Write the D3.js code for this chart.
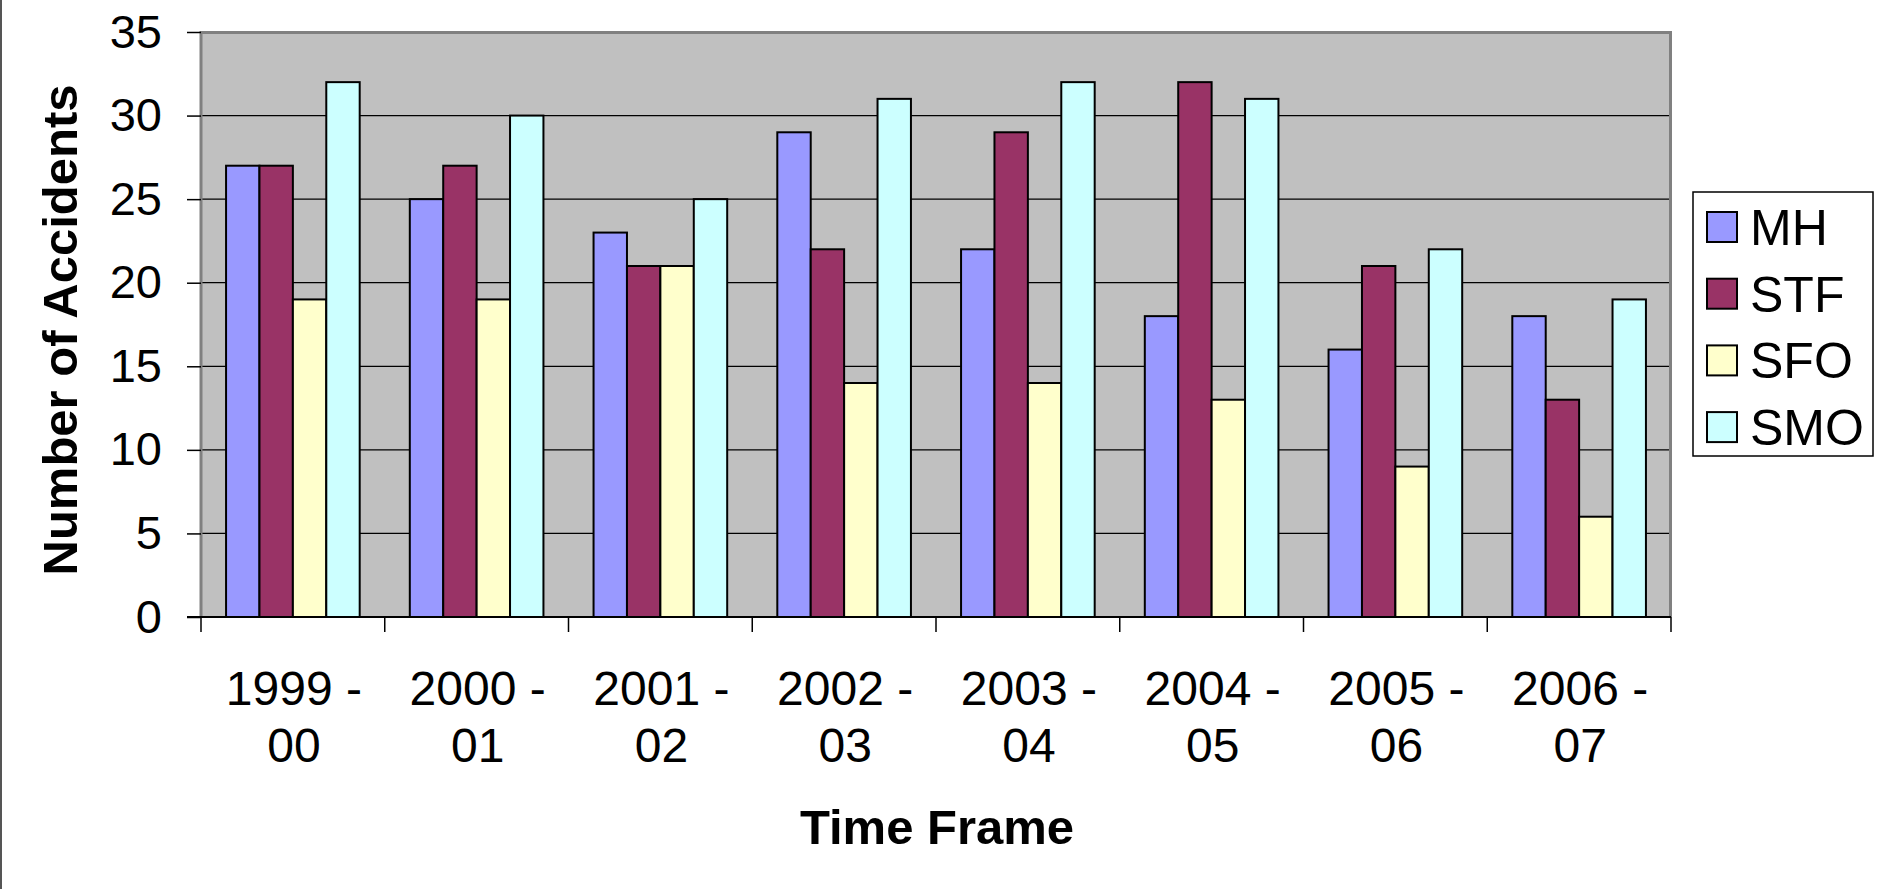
<!DOCTYPE html>
<html>
<head>
<meta charset="utf-8">
<script src="https://cdnjs.cloudflare.com/ajax/libs/d3/7.8.5/d3.min.js"></script>
<style>
  body { margin: 0; background: #fff; }
  svg { display: block; font-family: "Liberation Sans", Arial, sans-serif; }
</style>
</head>
<body>
<div class="container"></div>
<script>
var periods = ["1999 - 00", "2000 - 01", "2001 - 02", "2002 - 03", "2003 - 04", "2004 - 05", "2005 - 06", "2006 - 07"];
var seriesNames = ["MH", "STF", "SFO", "SMO"];
var mhValues  = [27, 25, 23, 29, 22, 18, 16, 18];
var stfValues = [27, 27, 21, 22, 29, 32, 21, 13];
var sfoValues = [19, 19, 21, 14, 14, 13, 9, 6];
var smoValues = [32, 30, 25, 31, 32, 31, 22, 19];
var yTicks = [0, 5, 10, 15, 20, 25, 30, 35];

const WIDTH = 1879;
const HEIGHT = 889;
const PLOT = {left: 201, right: 1671, top: 32, bottom: 617};
var colors = ["#9999FF", "#993366", "#FFFFCC", "#CCFFFF"];
var seriesValues = [mhValues, stfValues, sfoValues, smoValues];

var translate = function(x, y){
	return "translate(" + x + "," + y + ")";
};

var svg = d3.select('.container').append('svg')
	.attr('width', WIDTH)
	.attr('height', HEIGHT);

// left edge frame line
svg.append('line')
	.attr('x1', 1).attr('x2', 1).attr('y1', 0).attr('y2', HEIGHT)
	.attr('stroke', '#555').attr('stroke-width', 2);

var xScale = d3.scaleBand()
	.domain(periods)
	.range([PLOT.left, PLOT.right])
	.padding(0);

var innerScale = d3.scaleBand()
	.domain(seriesNames)
	.range([0, xScale.step()])
	.paddingInner(0)
	.paddingOuter(0.75);

var yScale = d3.scaleLinear()
	.domain([0, 35])
	.range([PLOT.bottom, PLOT.top]);

// plot background
svg.append('rect')
	.attr('x', PLOT.left).attr('y', PLOT.top)
	.attr('width', PLOT.right - PLOT.left)
	.attr('height', PLOT.bottom - PLOT.top)
	.attr('fill', '#C0C0C0');

// gridlines
svg.append('g').selectAll('line').data(yTicks.slice(1, -1))
	.enter().append('line')
	.attr('x1', PLOT.left).attr('x2', PLOT.right)
	.attr('y1', function(d){ return yScale(d); })
	.attr('y2', function(d){ return yScale(d); })
	.attr('stroke', '#000').attr('stroke-width', 1.2);

// plot border (top/right/left)
svg.append('path')
	.attr('d', 'M' + PLOT.left + ',' + PLOT.bottom + 'V' + (PLOT.top + 0.5) + 'H' + (PLOT.right - 0.5) + 'V' + PLOT.bottom)
	.attr('fill', 'none')
	.attr('stroke', '#808080').attr('stroke-width', 3);

// bars
var rows = periods.map(function(p, i){
	return {period: p, values: seriesNames.map(function(s, j){ return {series: s, value: seriesValues[j][i], idx: j}; })};
});

var groups = svg.append('g').selectAll('g').data(rows)
	.enter().append('g')
	.attr('transform', function(d){ return translate(xScale(d.period), 0); });

groups.selectAll('rect').data(function(d){ return d.values; })
	.enter().append('rect')
	.attr('x', function(d){ return innerScale(d.series); })
	.attr('y', function(d){ return yScale(d.value); })
	.attr('width', innerScale.bandwidth())
	.attr('height', function(d){ return yScale(0) - yScale(d.value); })
	.attr('fill', function(d){ return colors[d.idx]; })
	.attr('stroke', '#000').attr('stroke-width', 2);

// y axis
var yAxis = d3.axisLeft(yScale)
	.tickValues(yTicks)
	.tickSize(14)
	.tickPadding(25)
	.tickFormat(d3.format('d'));

var yG = svg.append('g')
	.attr('transform', translate(PLOT.left, 0))
	.call(yAxis);
yG.select('.domain').remove();
yG.selectAll('line').attr('stroke', '#000').attr('stroke-width', 1.5);
yG.selectAll('text')
	.attr('font-size', 47)
	.attr('font-family', '"Liberation Sans", Arial, sans-serif')
	.attr('fill', '#000');

// x axis line and boundary ticks
svg.append('line')
	.attr('x1', PLOT.left - 14).attr('x2', PLOT.right)
	.attr('y1', PLOT.bottom).attr('y2', PLOT.bottom)
	.attr('stroke', '#000').attr('stroke-width', 2);

var bounds = periods.map(function(p){ return xScale(p); }).concat([PLOT.right]);
svg.append('g').selectAll('line').data(bounds)
	.enter().append('line')
	.attr('x1', function(d){ return d; }).attr('x2', function(d){ return d; })
	.attr('y1', PLOT.bottom).attr('y2', PLOT.bottom + 15)
	.attr('stroke', '#000').attr('stroke-width', 1.5);

// x labels (two lines)
var xLabels = svg.append('g').selectAll('text').data(periods)
	.enter().append('text')
	.attr('text-anchor', 'middle')
	.attr('font-size', 48)
	.attr('fill', '#000')
	.attr('transform', function(d){ return translate(xScale(d) + xScale.bandwidth() / 2 + 1, 0); });

xLabels.append('tspan')
	.attr('x', 0).attr('y', 705)
	.text(function(d){ return d.split(' - ')[0] + ' -'; });
xLabels.append('tspan')
	.attr('x', 0).attr('y', 762)
	.text(function(d){ return d.split(' - ')[1]; });

// axis titles
svg.append('text')
	.attr('x', 937).attr('y', 844)
	.attr('text-anchor', 'middle')
	.attr('font-size', 49).attr('font-weight', 'bold')
	.text('Time Frame');

svg.append('text')
	.attr('transform', translate(77, 330) + ' rotate(-90)')
	.attr('text-anchor', 'middle')
	.attr('font-size', 49).attr('font-weight', 'bold')
	.text('Number of Accidents');

// legend
var legend = svg.append('g').attr('transform', translate(1693, 192));
legend.append('rect')
	.attr('width', 180).attr('height', 264)
	.attr('fill', '#fff')
	.attr('stroke', '#000').attr('stroke-width', 1.5);

var items = legend.selectAll('g.item').data(seriesNames)
	.enter().append('g')
	.attr('class', 'item')
	.attr('transform', function(d, i){ return translate(14, 20 + i * 66.7); });

items.append('rect')
	.attr('width', 30).attr('height', 30)
	.attr('fill', function(d, i){ return colors[i]; })
	.attr('stroke', '#000').attr('stroke-width', 2);

items.append('text')
	.attr('x', 43).attr('y', 33)
	.attr('font-size', 50)
	.text(function(d){ return d; });
</script>
</body>
</html>
